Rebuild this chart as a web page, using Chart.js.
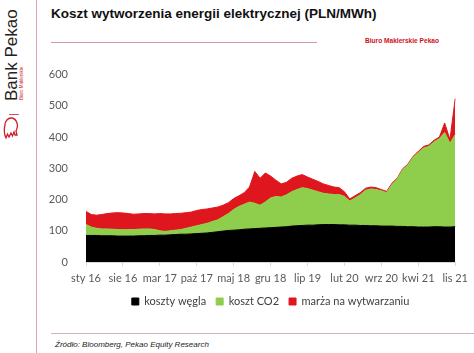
<!DOCTYPE html>
<html>
<head>
<meta charset="utf-8">
<script src="https://cdn.jsdelivr.net/npm/chart.js@4/dist/chart.umd.min.js"></script>
<style>
  body { margin: 0; background: #fff; width: 474px; height: 353px; overflow: hidden; position: relative; font-family: "Liberation Sans", Arial, sans-serif; }
  #side { position: absolute; left: 36px; top: 0; width: 1px; height: 353px; background: #d9a6ab; }
  .rot { position: absolute; transform-origin: 0 0; transform: rotate(-90deg); white-space: nowrap; line-height: 1; }
  #bank { left: 3px; top: 101px; font-size: 17px; color: #222; }
  #sep { left: 9px; top: 116px; font-size: 10px; color: #d01f2a; }
  #bm { left: 20px; top: 100px; font-size: 4.5px; color: #d01f2a; }
  #logo { position: absolute; left: 3px; top: 116px; }
  #title { position: absolute; left: 51px; top: 6px; font-size: 13.5px; font-weight: bold; color: #111; }
  #rule1 { position: absolute; left: 51px; top: 42px; width: 266px; height: 1px; background: #d49aa0; }
  #biuro { position: absolute; left: 365px; top: 37px; font-size: 6.6px; font-weight: bold; color: #d0101c; }
  #rule2 { position: absolute; left: 51px; top: 333px; width: 423px; height: 1px; background: #d9b0b3; }
  #src { position: absolute; left: 55px; top: 340px; font-size: 8px; font-style: italic; color: #222; }
  #wrap { position: absolute; left: 40px; top: 58px; width: 434px; height: 259px; }
</style>
</head>
<body>
<div id="side"></div>
<div id="bank" class="rot">Bank Pekao</div>
<div id="sep" class="rot">|</div>
<div id="bm" class="rot">Biuro Maklerskie</div>
<svg id="logo" width="16" height="24" viewBox="0 0 16 24">
  <path d="M3 22 C1 18 1 13 2 9 C2 5 5 2 8 2 C11 2 13 4 14 7 C15 10 14 13 13 15 L14 19 L12 19 L11 16 L9.5 20 L8 17 L6 21 L4.5 18 Z" fill="none" stroke="#d01f2a" stroke-width="1.3"/>
</svg>
<div id="title">Koszt wytworzenia energii elektrycznej (PLN/MWh)</div>
<div id="rule1"></div>
<div id="biuro">Biuro Maklerskie Pekao</div>
<div id="wrap"><canvas id="energyChart"></canvas></div>
<div id="rule2"></div>
<div id="src">Źródło: Bloomberg, Pekao Equity Research</div>
<script>
// Months Jan 2016 - Nov 2021
const monthNames = ["sty", "lut", "mar", "kwi", "maj", "cze", "lip", "sie", "wrz", "paź", "lis", "gru"];
const months = [];
for (let y = 16; y <= 21; y++) {
  for (let m = 0; m < 12; m++) {
    if (y === 21 && m > 10) break;
    months.push(monthNames[m] + " " + y);
  }
}

// coal cost (black)
const coalCost = [
  85, 85, 85, 84, 84, 84, 83, 83, 83, 83, 84, 84,
  85, 85, 86, 86, 87, 88, 89, 89, 90, 91, 92, 93,
  95, 97, 99, 101, 102, 103, 105, 106, 107, 108, 109, 110,
  111, 112, 113, 115, 116, 117, 118, 118, 119, 120, 120, 120,
  119, 119, 118, 118, 117, 117, 116, 116, 115, 115, 115, 114,
  114, 113, 113, 112, 112, 112, 113, 113, 112, 112, 113,
];

// CO2 cost (green)
const co2Cost = [
  35, 27, 23, 22, 22, 21, 21, 20, 21, 21, 21, 22,
  21, 19, 14, 12, 13, 14, 15, 19, 22, 25, 28, 31,
  35, 38, 46, 54, 66, 75, 80, 86, 81, 74, 83, 95,
  99, 96, 102, 110, 116, 121, 117, 112, 106, 100, 98, 96,
  97, 91, 77, 87, 98, 113, 118, 116, 113, 107, 133, 151,
  181, 197, 222, 238, 253, 258, 272, 282, 303, 268, 295,
];

// generation margin (red)
const margin = [
  42, 40, 42, 46, 49, 52, 54, 54, 51, 49, 49, 49,
  49, 50, 55, 56, 54, 53, 52, 50, 48, 49, 48, 46,
  43, 41, 37, 35, 35, 34, 37, 48, 102, 86, 93, 70,
  52, 42, 40, 43, 43, 42, 37, 35, 33, 30, 27, 24,
  22, 15, 7, 7, 7, 6, 6, 6, 4, 4, 4, 3,
  3, 3, 3, 4, 5, 5, 5, 5, 30, 12, 115,
];

const ctx = document.getElementById("energyChart").getContext("2d");
new Chart(ctx, {
  type: "line",
  data: {
    labels: months,
    datasets: [
      {
        label: "koszty węgla",
        data: coalCost,
        borderColor: "#000000",
        backgroundColor: "#000000",
        fill: "origin",
      },
      {
        label: "koszt CO2",
        data: co2Cost,
        borderColor: "#8fce4c",
        backgroundColor: "#8fce4c",
        fill: "-1",
      },
      {
        label: "marża na wytwarzaniu",
        data: margin,
        borderColor: "#e0161e",
        backgroundColor: "#e0161e",
        fill: "-1",
      },
    ],
  },
  options: {
    responsive: true,
    maintainAspectRatio: false,
    animation: false,
    layout: { padding: { left: 0, right: 4, top: 9, bottom: 0 } },
    elements: {
      point: { radius: 0 },
      line: { borderWidth: 1, tension: 0 },
    },
    scales: {
      x: {
        offset: false,
        afterFit: (s) => { s.height = 24; },
        grid: {
          drawOnChartArea: false,
          tickLength: 4,
          color: (c) => (c.index % 7 === 0 ? "#d9d9d9" : "rgba(0,0,0,0)"),
        },
        border: { color: "#d9d9d9" },
        ticks: {
          autoSkip: false,
          maxRotation: 0,
          padding: 6,
          color: "#595959",
          font: { family: "Lato", size: 11 },
          callback: function (val, i) {
            return i % 7 === 0 ? this.getLabelForValue(val) : "";
          },
        },
      },
      y: {
        stacked: true,
        min: 0,
        max: 600,
        afterFit: (s) => { s.width = 46; },
        grid: { display: false },
        border: { display: false },
        ticks: {
          stepSize: 100,
          padding: 10,
          color: "#595959",
          font: { family: "Lato", size: 11 },
        },
      },
    },
    plugins: {
      tooltip: { enabled: false },
      legend: {
        display: true,
        position: "bottom",
        fullSize: false,
        labels: {
          boxWidth: 7,
          boxHeight: 7,
          padding: 10,
          color: "#404040",
          font: { family: "Lato", size: 11 },
        },
      },
    },
  },
});
</script>
</body>
</html>
